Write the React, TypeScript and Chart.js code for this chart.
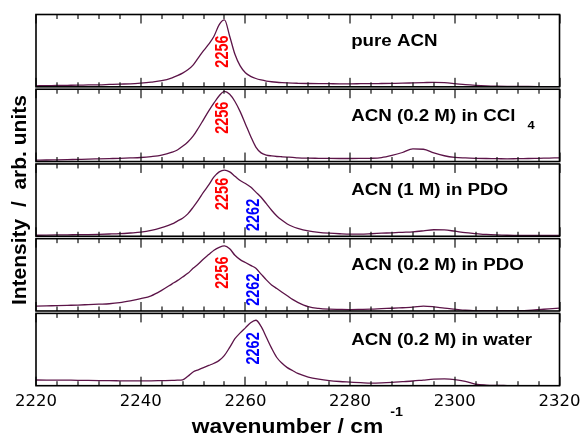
import React, { useEffect, useRef } from 'react';
import { Chart, registerables } from 'chart.js';

Chart.register(...registerables);

// Shared wavenumber grid (cm^-1)
const wavenumbers = [
  2220, 2222, 2224, 2226, 2228, 2230, 2232, 2234, 2236, 2238, 2240, 2242, 2244,
  2246, 2247, 2248, 2249, 2250, 2251, 2252, 2253, 2254, 2255, 2256, 2257, 2258,
  2259, 2260, 2261, 2262, 2263, 2264, 2265, 2266, 2267, 2268, 2269, 2270,
  2272, 2274, 2276, 2278, 2280, 2282, 2284, 2286, 2288, 2290, 2292, 2294, 2296,
  2298, 2300, 2302, 2304, 2306, 2308, 2310, 2312, 2314, 2316, 2318, 2320,
];

// Normalised intensities (arb. units) per panel
const pureAcn = [
  0.014, 0.016, 0.019, 0.021, 0.023, 0.026, 0.028, 0.033, 0.038, 0.042, 0.052, 0.066, 0.085,
  0.125, 0.155, 0.19, 0.235, 0.3, 0.4, 0.5, 0.59, 0.7, 0.86, 0.925, 0.7, 0.45,
  0.29, 0.195, 0.145, 0.115, 0.095, 0.08, 0.07, 0.063, 0.058, 0.054, 0.051, 0.049,
  0.046, 0.044, 0.043, 0.042, 0.042, 0.043, 0.044, 0.046, 0.048, 0.05, 0.054, 0.058, 0.062,
  0.058, 0.045, 0.03, 0.02, 0.013, 0.009, 0.007, 0.006, 0.005, 0.004, 0.003, 0.003,
];
const acnCcl4 = [
  0.019, 0.021, 0.024, 0.027, 0.03, 0.033, 0.037, 0.041, 0.045, 0.05, 0.056, 0.068, 0.088,
  0.13, 0.16, 0.21, 0.27, 0.35, 0.46, 0.58, 0.7, 0.81, 0.91, 0.97, 0.93, 0.83,
  0.69, 0.52, 0.35, 0.2, 0.12, 0.09, 0.078, 0.07, 0.066, 0.062, 0.058, 0.052,
  0.047, 0.045, 0.043, 0.042, 0.042, 0.043, 0.045, 0.055, 0.085, 0.125, 0.175, 0.17, 0.12,
  0.08, 0.058, 0.05, 0.045, 0.042, 0.04, 0.037, 0.04, 0.042, 0.045, 0.048, 0.051,
];
const acn1mPdo = [
  0.014, 0.016, 0.018, 0.02, 0.022, 0.024, 0.027, 0.031, 0.036, 0.045, 0.056, 0.08, 0.12,
  0.17, 0.21, 0.25, 0.31, 0.4, 0.5, 0.61, 0.71, 0.82, 0.89, 0.915, 0.89, 0.83,
  0.77, 0.73, 0.68, 0.61, 0.54, 0.45, 0.36, 0.28, 0.22, 0.17, 0.135, 0.11,
  0.075, 0.055, 0.043, 0.035, 0.03, 0.03, 0.035, 0.042, 0.048, 0.055, 0.062, 0.075, 0.09,
  0.088, 0.07, 0.05, 0.037, 0.025, 0.018, 0.014, 0.013, 0.012, 0.012, 0.012, 0.012,
];
const acn02mPdo = [
  0.066, 0.07, 0.074, 0.078, 0.082, 0.088, 0.094, 0.1, 0.115, 0.14, 0.17, 0.21, 0.285,
  0.375, 0.42, 0.47, 0.52, 0.59, 0.65, 0.72, 0.78, 0.84, 0.88, 0.9, 0.86, 0.77,
  0.71, 0.67, 0.63, 0.59, 0.51, 0.43, 0.36, 0.31, 0.26, 0.21, 0.16, 0.12,
  0.06, 0.035, 0.025, 0.022, 0.02, 0.022, 0.025, 0.032, 0.038, 0.045, 0.052, 0.068, 0.058,
  0.04, 0.025, 0.01, 0.002, 0, 0, 0, 0.003, 0.008, 0.018, 0.03, 0.04,
];
const acnWater = [
  0.079, 0.078, 0.077, 0.076, 0.075, 0.073, 0.071, 0.069, 0.068, 0.067, 0.066, 0.067, 0.07,
  0.073, 0.076, 0.08, 0.13, 0.19, 0.22, 0.25, 0.28, 0.31, 0.35, 0.42, 0.53, 0.65,
  0.73, 0.8, 0.87, 0.905, 0.82, 0.67, 0.52, 0.39, 0.31, 0.25, 0.21, 0.17,
  0.12, 0.09, 0.07, 0.058, 0.05, 0.042, 0.035, 0.038, 0.045, 0.055, 0.065, 0.078, 0.09,
  0.093, 0.085, 0.06, 0.02, 0.008, 0.004, 0.002, 0, 0, 0, 0, 0,
];

const series = [pureAcn, acnCcl4, acn1mPdo, acn02mPdo, acnWater];
const panelLabels = ['pure ACN', 'ACN (0.2 M) in CCl', 'ACN (1 M) in PDO', 'ACN (0.2 M) in PDO', 'ACN (0.2 M) in water'];
const panelSubscripts = ['', '4', '', '', ''];
const peakPositions = [[2256], [2256], [2256, 2262], [2256, 2262], [2262]];
const xTickValues = [2220, 2240, 2260, 2280, 2300, 2320];
const xMinorStep = 4;
const xTitle = 'wavenumber / cm';
const xTitleSup = '-1';
const yTitle = 'Intensity  /  arb. units';

// Styling / layout (not data)
const LINE_COLOR = '#5c1448';
const PEAK_COLORS: Record<number, string> = { 2256: '#ff0000', 2262: '#0000ff' };
const PEAK_LABEL_Y: number[][] = [[37], [28.5], [30, 51], [34, 51], [35]];
const FONT = '"Liberation Sans", Arial, Helvetica, sans-serif';

function drawText(
  ctx: CanvasRenderingContext2D, text: string, x: number, y: number, font: string,
  color: string, sx: number, align: CanvasTextAlign = 'left', rot = 0,
) {
  ctx.save();
  ctx.translate(x, y);
  ctx.scale(sx, 1);
  if (rot) ctx.rotate(rot);
  ctx.font = font;
  ctx.fillStyle = color;
  ctx.textAlign = align;
  ctx.textBaseline = 'middle';
  ctx.fillText(text, 0, 0);
  ctx.restore();
}

const panelIds = ['p0', 'p1', 'p2', 'p3', 'p4'];

const panelPlugin = {
  id: 'panelPlugin',
  afterDraw(chart: any) {
    const ctx: CanvasRenderingContext2D = chart.ctx;
    const xs = chart.scales.x;
    const w = xs.right - xs.left;
    ctx.save();
    panelIds.forEach((id) => {
      const ys = chart.scales[id];
      const top = ys.top, bottom = ys.bottom;
      const left = xs.left, right = xs.right;
      ctx.fillStyle = '#111';
      const n = Math.round((xs.max - xs.min) / xMinorStep);
      for (let k = 0; k <= n; k++) {
        const v = xs.min + k * xMinorStep;
        const px = Math.round(xs.getPixelForValue(v));
        const major = xTickValues.includes(v);
        const len = major ? 9 : 4.5;
        ctx.fillRect(px - 0.6, top, 1.2, len);
        ctx.fillRect(px - 0.6, bottom - len, 1.2, len);
      }
      ctx.strokeStyle = '#000';
      ctx.lineWidth = 1.6;
      ctx.strokeRect(left, top, right - left, bottom - top);
    });
    ctx.restore();

    panelIds.forEach((id, i) => {
      const ys = chart.scales[id];
      const top = ys.top;
      const lx = xs.left + w * 0.602;
      const labelFont = `bold 16px ${FONT}`;
      const sx = 1.17;
      drawText(ctx, panelLabels[i], lx, top + 27, labelFont, '#000', sx);
      if (panelSubscripts[i]) {
        ctx.save();
        ctx.font = labelFont;
        const tw = ctx.measureText(panelLabels[i]).width * sx;
        ctx.restore();
        drawText(ctx, panelSubscripts[i], lx + tw + 12, top + 37, `bold 11px ${FONT}`, '#000', sx);
      }
      peakPositions[i].forEach((p, k) => {
        const px = xs.getPixelForValue(p) - 1.5;
        drawText(ctx, String(p), px, top + PEAK_LABEL_Y[i][k], `bold 14.5px ${FONT}`, PEAK_COLORS[p], 1.25, 'center', -Math.PI / 2);
      });
    });
    // x-axis title with superscript
    const cx = (xs.left + xs.right) / 2;
    const titleFont = `bold 19.5px ${FONT}`;
    ctx.save();
    ctx.font = titleFont;
    const tw = ctx.measureText(xTitle).width * 1.17;
    ctx.restore();
    const x0 = cx - 106;
    drawText(ctx, xTitle, x0, 427.5, titleFont, '#000', 1.17);
    drawText(ctx, xTitleSup, x0 + tw + 7, 413, `bold 12px ${FONT}`, '#000', 1.19);
  },
};

export default function App() {
  const canvasRef = useRef<HTMLCanvasElement | null>(null);

  useEffect(() => {
    if (!canvasRef.current) return;
    const datasets = series.map((vals, i) => ({
      data: wavenumbers.map((x, j) => ({ x, y: vals[j] })),
      yAxisID: panelIds[i],
      xAxisID: 'x',
      borderColor: LINE_COLOR,
      borderWidth: 1.3,
      pointRadius: 0,
      fill: false,
      cubicInterpolationMode: 'monotone' as const,
    }));

    const hidden = {
      display: true,
      ticks: { display: false },
      grid: { display: false, drawTicks: false },
      border: { display: false },
    };
    const scales: any = {
      x: {
        type: 'linear',
        position: 'bottom',
        min: 2220,
        max: 2320,
        afterBuildTicks: (scale: any) => {
          scale.ticks = xTickValues.map((v) => ({ value: v }));
        },
        ticks: {
          color: '#000',
          padding: 6.5,
          maxRotation: 0,
          font: { family: '"DejaVu Sans", sans-serif', size: 16.5 },
          callback: (v: any) => String(v),
        },
        grid: { display: false, drawTicks: false },
        border: { display: false },
      },
      yT: {
        type: 'linear',
        axis: 'y',
        position: 'left',
        weight: 100,
        ...hidden,
        title: {
          display: true,
          text: yTitle,
          color: '#000',
          font: { family: FONT, size: 21, weight: 'bold' },
          padding: { top: 7.4, bottom: 3.4 },
        },
      },
    };
    const panelWeight = 72.4;
    const gapWeight = 2.4;
    let wgt = 50;
    panelIds.forEach((id, i) => {
      scales[id] = {
        type: 'linear', axis: 'y', position: 'left', stack: 'panels',
        stackWeight: panelWeight, weight: wgt--, min: 0, max: 1, ...hidden,
      };
      if (i < panelIds.length - 1) {
        scales['gap' + i] = {
          type: 'linear', axis: 'y', position: 'left', stack: 'panels',
          stackWeight: gapWeight, weight: wgt--, min: 0, max: 1, ...hidden,
        };
      }
    });

    const chart = new Chart(canvasRef.current, {
      type: 'line',
      data: { datasets },
      options: {
        animation: false,
        responsive: false,
        devicePixelRatio: 1,
        layout: { autoPadding: false, padding: { left: 0, right: 23, top: 14.5, bottom: 18.5 } },
        plugins: { legend: { display: false }, tooltip: { enabled: false } },
        scales,
      },
      plugins: [panelPlugin],
    } as any);
    return () => chart.destroy();
  }, []);

  return (
    <div style={{ position: 'absolute', left: 0, top: 0, width: 587, height: 437, background: '#fff' }}>
      <canvas ref={canvasRef} width={587} height={437} />
    </div>
  );
}
